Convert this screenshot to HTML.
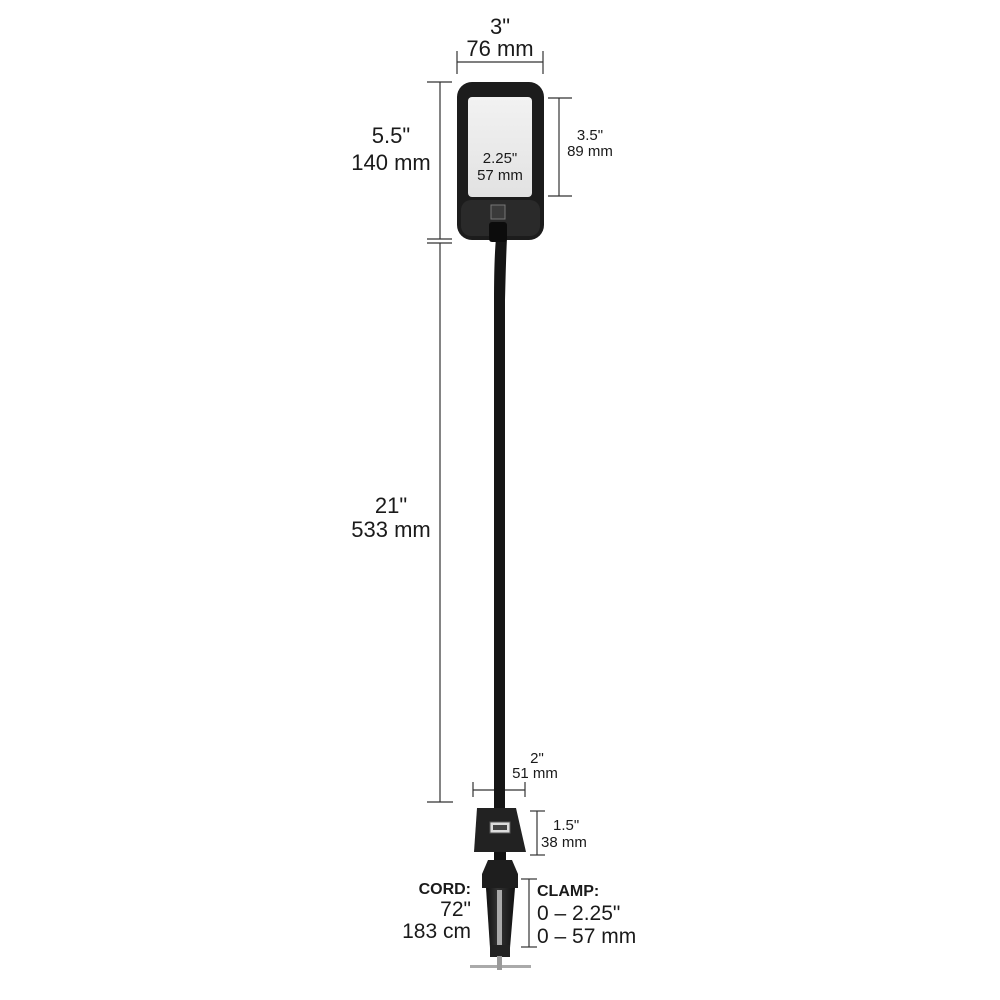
<!DOCTYPE html>
<html><head><meta charset="utf-8"><style>
body{margin:0;background:#fff}
svg{display:block}
text{font-family:"Liberation Sans",sans-serif;fill:#1a1a1a}
</style></head><body>
<svg width="1000" height="1000" viewBox="0 0 1000 1000">
<defs>
<linearGradient id="pan" x1="0" y1="0" x2="0" y2="1"><stop offset="0" stop-color="#f2f2f2"/><stop offset="1" stop-color="#e2e2e2"/></linearGradient>
<linearGradient id="cl" x1="0" y1="0" x2="1" y2="0"><stop offset="0" stop-color="#111"/><stop offset="0.4" stop-color="#333"/><stop offset="1" stop-color="#111"/></linearGradient>
</defs>
<g stroke="#333" stroke-width="1.2" fill="none">
<line x1="457" y1="62" x2="543" y2="62"/><line x1="457" y1="51" x2="457" y2="74"/><line x1="543" y1="51" x2="543" y2="74"/>
<line x1="440" y1="82" x2="440" y2="239"/><line x1="427" y1="82" x2="452" y2="82"/>
<line x1="427" y1="239" x2="452" y2="239"/><line x1="427" y1="243" x2="452" y2="243"/>
<line x1="440" y1="243" x2="440" y2="802"/><line x1="427" y1="802" x2="453" y2="802"/>
<line x1="559" y1="98" x2="559" y2="196"/><line x1="548" y1="98" x2="572" y2="98"/><line x1="548" y1="196" x2="572" y2="196"/>
<line x1="473" y1="181" x2="527" y2="181"/><line x1="473" y1="175" x2="473" y2="191"/><line x1="527" y1="175" x2="527" y2="191"/>
<line x1="473" y1="790" x2="525" y2="790"/><line x1="473" y1="782" x2="473" y2="797"/><line x1="525" y1="782" x2="525" y2="797"/>
<line x1="537" y1="811" x2="537" y2="855"/><line x1="530" y1="811" x2="545" y2="811"/><line x1="530" y1="855" x2="545" y2="855"/>
<line x1="529" y1="879" x2="529" y2="947"/><line x1="521" y1="879" x2="537" y2="879"/><line x1="521" y1="947" x2="537" y2="947"/>
</g>
<path d="M496 238 Q494 260 494 300 L494 808 L505 808 L505 300 Q506 258 507 238 Z" fill="#151515"/>
<rect x="457" y="82" width="87" height="158" rx="15" fill="#1c1c1c"/>
<rect x="461" y="200" width="79" height="36" rx="10" fill="#2a2a2a"/>
<rect x="468" y="97" width="64" height="100" rx="4" fill="url(#pan)"/>
<rect x="491" y="205" width="14" height="14" fill="#3a3a3a" stroke="#777" stroke-width="1"/>
<rect x="489" y="222" width="18" height="20" rx="3" fill="#0c0c0c"/>
<path d="M477 808 L516 808 L526 852 L474 852 Z" fill="#222"/>
<rect x="490" y="822" width="20" height="11" fill="#ddd" stroke="#555"/>
<rect x="493" y="825" width="14" height="5" fill="#444"/>
<rect x="494" y="852" width="12" height="10" fill="#111"/>
<path d="M488 860 L512 860 L518 874 L518 888 L482 888 L482 874 Z" fill="#1e1e1e"/>
<path d="M486 888 L515 888 L510 948 L490 948 Z" fill="url(#cl)"/>
<rect x="497" y="890" width="5" height="68" fill="#aaa"/>
<rect x="490" y="945" width="20" height="12" fill="#222"/>
<rect x="470" y="965" width="61" height="3" fill="#aaa"/>
<rect x="497" y="956" width="5" height="14" fill="#999"/>
<g font-size="22" text-anchor="middle">
<text x="500" y="34">3"</text><text x="500" y="56">76 mm</text>
<text x="391" y="143">5.5"</text><text x="391" y="170">140 mm</text>
<text x="391" y="513">21"</text><text x="391" y="537">533 mm</text>
</g>
<g font-size="15" text-anchor="middle">
<text x="590" y="140">3.5"</text><text x="590" y="156">89 mm</text>
<text x="500" y="163">2.25"</text><text x="500" y="180">57 mm</text>
<text x="537" y="763">2"</text><text x="535" y="778">51 mm</text>
</g>
<g font-size="15">
<text x="553" y="830">1.5"</text><text x="541" y="847">38 mm</text>
</g>
<g font-size="21" text-anchor="end">
<text x="471" y="894" font-weight="bold" font-size="16">CORD:</text>
<text x="471" y="916">72"</text><text x="471" y="938">183 cm</text>
</g>
<g font-size="21">
<text x="537" y="896" font-weight="bold" font-size="16">CLAMP:</text>
<text x="537" y="920">0 – 2.25"</text><text x="537" y="943">0 – 57 mm</text>
</g>
</svg>
</body></html>
